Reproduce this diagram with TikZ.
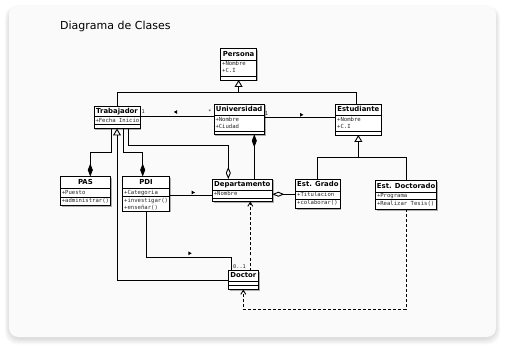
\documentclass[tikz,border=0pt]{standalone}
\usepackage{fontspec}
\setmainfont{DejaVu Sans}
\newfontfamily\umlmono{DejaVu Sans Mono}
\usetikzlibrary{arrows.meta,shadows}

\tikzset{
  classbox/.style={draw=black, line width=0.9pt, fill=white, inner sep=0pt, outer sep=0pt,
    drop shadow={shadow xshift=1.3pt, shadow yshift=-1.3pt, fill=black, opacity=0.3}},
  rule/.style={line width=0.6pt},
  classname/.style={font=\fontsize{6.9}{8}\selectfont\bfseries, inner sep=0pt,
    text height=5pt, text depth=1.2pt},
  members/.style={font=\umlmono\fontsize{5.6}{6.7}\selectfont, text=black!85, inner sep=0pt,
    align=left, anchor=north west},
  mult/.style={font=\umlmono\fontsize{5.2}{6}\selectfont, text=black!85, inner sep=0pt},
  link/.style={line width=0.9pt},
  gen/.style={link, -{Triangle[open, length=7pt, width=8pt]}},
  comp/.style={link, -{Diamond[length=13pt, width=5pt]}},
  agg/.style={link, -{Diamond[open, length=12pt, width=5pt]}},
  dep/.style={link, dash pattern=on 3pt off 2pt, -{Straight Barb[length=4pt, width=5pt]}},
  dirR/.pic={\fill (1.7,0) -- (-1.7,-1.9) -- (-1.7,1.9) -- cycle;},
  dirL/.pic={\fill (-1.7,0) -- (1.7,-1.9) -- (1.7,1.9) -- cycle;},
}

% #1 id, #2 left, #3 top, #4 right, #5 bottom, #6 name rule, #7 attribute rule,
% #8 class name, #9 attributes
\newcommand\umlclass[9]{%
  \node[classbox, minimum width={#4pt-#2pt}, minimum height={#5pt-#3pt}]
    (#1) at ({(#2+#4)/2},{(#3+#5)/2}) {};
  \draw[rule] (#2,#6) -- (#4,#6) (#2,#7) -- (#4,#7);
  \node[classname] (#1-name) at ({(#2+#4)/2},{(#3+#6)/2}) {#8};
  \node[members] (#1-attr) at ({#2+1.3},{#6+1.5}) {#9};
}
% operations compartment: #1 id, #2 left, #3 rule, #4 operations
\newcommand\umlops[4]{\node[members] (#1-ops) at ({#2+1.3},{#3+1.5}) {#4};}

\begin{document}
\begin{tikzpicture}[x=1pt, y=-1pt]
\useasboundingbox (0,0) rectangle (505,352);
\fill[white] (0,0) rectangle (505,352);

% card with soft shadow
\foreach \k in {0,...,6}
  \fill[black, opacity=0.018, rounded corners=12pt]
    ({9-\k*0.7},{7-\k*0.2}) rectangle ({496+\k*0.7},{339+\k*0.9});
\fill[white!98!black, rounded corners=9pt] (9,5) rectangle (496,337);

\node[font=\fontsize{11}{13}\selectfont, anchor=base west, inner sep=0pt]
  (title) at (60,30) {Diagrama de Clases};

% classes
\umlclass{per}{220.7}{48.3}{256.5}{80}{60}{76.5}{Persona}{+Nombre\\+C.I}
\umlclass{tra}{94}{106}{140}{128.5}{116.5}{124.5}{Trabajador}{+Fecha Inicio}
\umlclass{uni}{214}{104}{264.3}{134.3}{115.7}{131}{Universidad}{+Nombre\\+Ciudad}
\umlclass{est}{335.7}{104}{381}{135}{115.7}{131.7}{Estudiante}{+Nombre\\+C.I}
\umlclass{pas}{60.3}{176.5}{110.5}{205.5}{188.5}{197}{PAS}{+Puesto}
\umlops{pas}{60.3}{197}{+administrar()}
\umlclass{pdi}{122.7}{176.5}{169.3}{211}{188.5}{196.5}{PDI}{+Categoria}
\umlops{pdi}{122.7}{196.5}{+investigar()\\+enseñar()}
\umlclass{dep}{212.3}{179}{272.3}{201.5}{190}{198.5}{Departamento}{+Nombre}
\umlclass{eg}{295.7}{179}{340}{208.3}{191}{199}{Est. Grado}{+Titulacion}
\umlops{eg}{295.7}{199}{+colaborar()}
\umlclass{ed}{375.5}{180.5}{436.7}{209.3}{192}{199.7}{Est. Doctorado}{+Programa}
\umlops{ed}{375.5}{199.7}{+Realizar Tesis()}
\umlclass{doc}{228.3}{270.5}{258.3}{289.5}{281.3}{285.4}{Doctor}{}

% generalizations
\coordinate (pj) at ([yshift=-12pt]per.south);
\draw[gen] (tra.north) |- (pj) -- (per.south);
\draw[link] ([xshift=-2pt]est.north) |- (pj);
\coordinate (ej) at ([yshift=-22pt]est.south);
\draw[gen] (eg.north) |- (ej) -- (est.south);
\draw[link] (ed.north) |- (ej);
\draw[gen] (doc.west) -| (tra.south);

% associations
\coordinate (tu) at ([yshift=3pt]uni.west);
\draw[link] (tra.east |- tu) -- (tu);
\coordinate (ue) at ([yshift=2pt]est.west);
\draw[link] (uni.east |- ue) -- (ue);
\coordinate (pd) at ([yshift=-5pt]dep.west);
\draw[link] (pdi.east |- pd) -- (pd);
\draw[link] (pdi.south) -- ++(0,46) -| ([xshift=3pt]doc.north west);

\pic at (175.5,112) {dirL};
\pic at (301.7,114.8) {dirR};
\pic at (193.3,192.5) {dirR};
\pic at (190,253.3) {dirR};

\node[mult] (m1) at (143.3,112) {1};
\node[mult] (m2) at (210,111.5) {*};
\node[mult] (m3) at (266.7,114) {1};
\node[mult] (m4) at (239.5,266.5) {0..1};

% compositions and aggregations
\draw[comp] ([xshift=17pt]tra.south west) -- ++(0,23.5) -| ([xshift=30pt]pas.north west);
\draw[comp] ([xshift=29pt]tra.south west) -- ++(0,23.5) -| ([xshift=20pt]pdi.north west);
\draw[agg] ([xshift=34pt]tra.south west) -- ++(0,16.5) -| ([xshift=16pt]dep.north west);
\draw[comp] ([xshift=42pt]dep.north west) -- ([xshift=40.3pt]uni.south west);
\coordinate (de) at ([yshift=-4pt]dep.east);
\draw[agg] (eg.west |- de) -- (de);

% dependencies
\draw[dep] ([xshift=-8pt]doc.north east) -- ([xshift=38pt]dep.south west);
\draw[dep] (ed.south) -- ++(0,100) -| (doc.south);
\end{tikzpicture}
\end{document}
